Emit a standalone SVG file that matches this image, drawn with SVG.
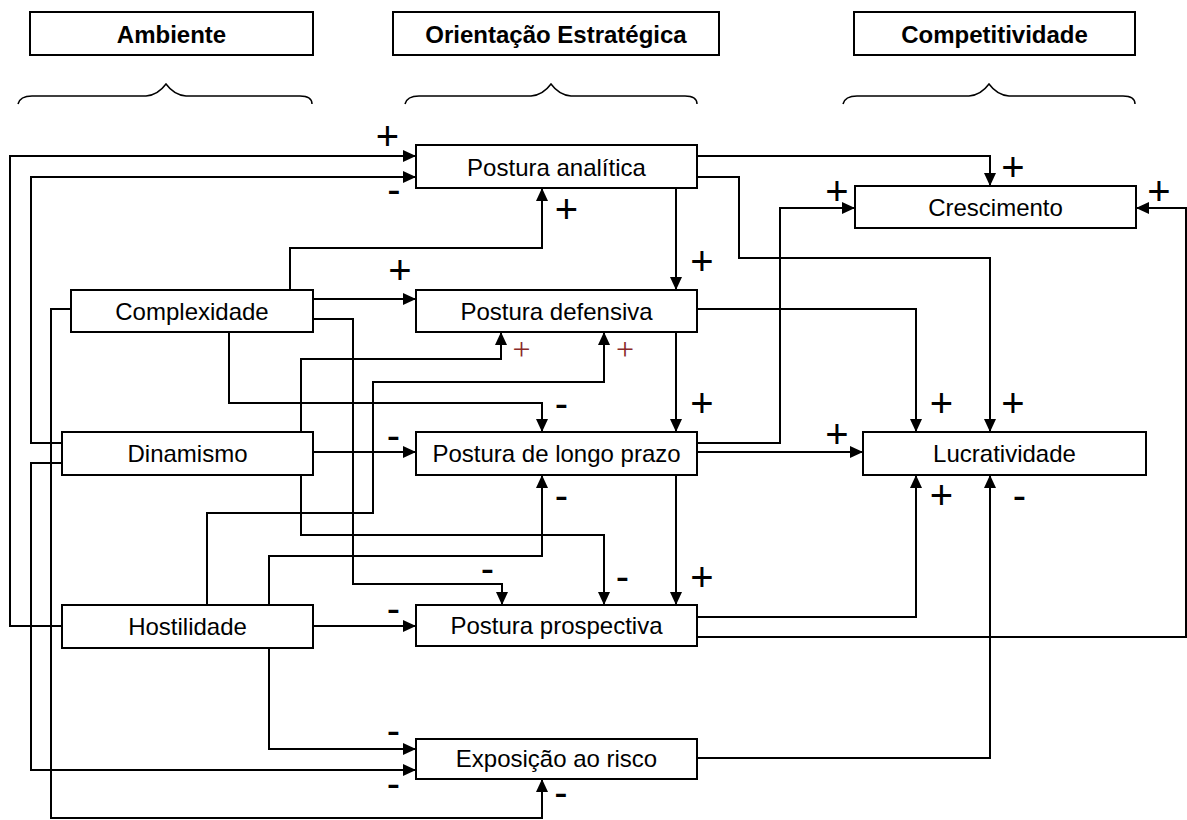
<svg xmlns="http://www.w3.org/2000/svg" width="1187" height="820" viewBox="0 0 1187 820">
  <style>
    .box { fill: #fff; stroke: #000; stroke-width: 2; }
    .hdr { font-family: "Liberation Sans", Arial, sans-serif; font-size: 24px; font-weight: bold; text-anchor: middle; fill: #000; }
    .lbl { font-family: "Liberation Sans", Arial, sans-serif; font-size: 24px; text-anchor: middle; fill: #000; }
    .brace { fill: none; stroke: #000; stroke-width: 1.5; }
    .wire { fill: none; stroke: #000; stroke-width: 2; marker-end: url(#arrow); }
    .plus { font-family: "Liberation Sans", Arial, sans-serif; font-size: 40px; text-anchor: middle; fill: #000; }
    .minus { font-family: "Liberation Sans", Arial, sans-serif; font-size: 40px; text-anchor: middle; fill: #000; }
    .small { font-family: "Liberation Serif", "Times New Roman", serif; font-size: 32px; text-anchor: middle; fill: #8a2a2a; }
  </style>
  <defs>
    <marker id="arrow" markerUnits="userSpaceOnUse" markerWidth="13" markerHeight="12" refX="13" refY="6" orient="auto">
      <path d="M0,0 L13,6 L0,12 z" fill="#000"/>
    </marker>
  </defs>

  <rect width="1187" height="820" fill="#fff"/>

  <!-- column headers -->
  <g id="hdr-ambiente">
    <rect class="box" x="30" y="12" width="283" height="43"/>
    <text class="hdr" x="171.5" y="43">Ambiente</text>
  </g>
  <g id="hdr-orientacao">
    <rect class="box" x="393" y="12" width="326" height="43"/>
    <text class="hdr" x="556" y="43">Orientação Estratégica</text>
  </g>
  <g id="hdr-competitividade">
    <rect class="box" x="854" y="12" width="281" height="43"/>
    <text class="hdr" x="994.5" y="43">Competitividade</text>
  </g>

  <!-- braces under headers -->
  <g id="braces">
    <path class="brace" d="M18,104 Q20,96 32,96 L146,96 Q158,95 166,84 Q174,95 186,96 L300,96 Q312,96 312,104"/>
    <path class="brace" d="M405,104 Q407,96 419,96 L531,96 Q543,95 551,84 Q559,95 571,96 L685,96 Q697,96 697,104"/>
    <path class="brace" d="M843,104 Q845,96 857,96 L969,96 Q981,95 989,84 Q997,95 1009,96 L1123,96 Q1135,96 1135,104"/>
  </g>

  <!-- environment nodes -->
  <g id="complexidade">
    <rect class="box" x="71" y="290" width="242" height="42"/>
    <text class="lbl" x="192" y="320">Complexidade</text>
  </g>
  <g id="dinamismo">
    <rect class="box" x="62" y="432" width="251" height="43"/>
    <text class="lbl" x="187.5" y="462">Dinamismo</text>
  </g>
  <g id="hostilidade">
    <rect class="box" x="62" y="605" width="251" height="43"/>
    <text class="lbl" x="187.5" y="635">Hostilidade</text>
  </g>

  <!-- strategic orientation nodes -->
  <g id="postura-analitica">
    <rect class="box" x="416" y="145" width="281" height="43"/>
    <text class="lbl" x="556.5" y="176">Postura analítica</text>
  </g>
  <g id="postura-defensiva">
    <rect class="box" x="416" y="290" width="281" height="42"/>
    <text class="lbl" x="556.5" y="320">Postura defensiva</text>
  </g>
  <g id="postura-longo-prazo">
    <rect class="box" x="416" y="432" width="281" height="43"/>
    <text class="lbl" x="556.5" y="462">Postura de longo prazo</text>
  </g>
  <g id="postura-prospectiva">
    <rect class="box" x="416" y="605" width="281" height="41"/>
    <text class="lbl" x="556.5" y="634">Postura prospectiva</text>
  </g>
  <g id="exposicao-risco">
    <rect class="box" x="416" y="739" width="281" height="40"/>
    <text class="lbl" x="556.5" y="767">Exposição ao risco</text>
  </g>

  <!-- competitiveness nodes -->
  <g id="crescimento">
    <rect class="box" x="855" y="186" width="281" height="42"/>
    <text class="lbl" x="995.5" y="216">Crescimento</text>
  </g>
  <g id="lucratividade">
    <rect class="box" x="863" y="432" width="283" height="43"/>
    <text class="lbl" x="1004.5" y="462">Lucratividade</text>
  </g>

  <!-- connectors -->
  <g id="connectors">
    <path class="wire" d="M62,626 L10,626 L10,156 L416,156"/>
    <path class="wire" d="M62,443 L31,443 L31,177 L416,177"/>
    <path class="wire" d="M290,290 L290,248 L542,248 L542,188"/>
    <path class="wire" d="M313,299 L416,299"/>
    <path class="wire" d="M313,319 L353,319 L353,584 L502,584 L502,605"/>
    <path class="wire" d="M229,332 L229,403 L542,403 L542,432"/>
    <path class="wire" d="M71,309 L51,309 L51,818 L542,818 L542,779"/>
    <path class="wire" d="M301,432 L301,359 L501,359 L501,332"/>
    <path class="wire" d="M207,605 L207,513 L373,513 L373,382 L604,382 L604,332"/>
    <path class="wire" d="M313,452 L416,452"/>
    <path class="wire" d="M301,475 L301,535 L604,535 L604,605"/>
    <path class="wire" d="M62,463 L31,463 L31,770 L416,770"/>
    <path class="wire" d="M269,605 L269,556 L542,556 L542,475"/>
    <path class="wire" d="M313,626 L416,626"/>
    <path class="wire" d="M269,648 L269,749 L416,749"/>
    <path class="wire" d="M697,156 L990,156 L990,186"/>
    <path class="wire" d="M697,177 L739,177 L739,258 L990,258 L990,432"/>
    <path class="wire" d="M676,188 L676,290"/>
    <path class="wire" d="M676,332 L676,432"/>
    <path class="wire" d="M676,475 L676,605"/>
    <path class="wire" d="M697,309 L916,309 L916,432"/>
    <path class="wire" d="M697,443 L780,443 L780,208 L855,208"/>
    <path class="wire" d="M697,452 L863,452"/>
    <path class="wire" d="M697,617 L916,617 L916,475"/>
    <path class="wire" d="M697,637 L1186,637 L1186,208 L1136,208"/>
    <path class="wire" d="M697,758 L990,758 L990,475"/>
  </g>

  <!-- sign labels on the links -->
  <g id="signs">
    <text class="plus" x="387.5" y="150">+</text>
    <text class="minus" x="394" y="203">-</text>
    <text class="plus" x="566.5" y="223">+</text>
    <text class="plus" x="400" y="284">+</text>
    <text class="plus" x="702" y="275">+</text>
    <text class="plus" x="1013" y="181">+</text>
    <text class="plus" x="837" y="205">+</text>
    <text class="plus" x="1159" y="205">+</text>
    <text class="small" x="521.5" y="360">+</text>
    <text class="small" x="625" y="360">+</text>
    <text class="minus" x="561.5" y="417">-</text>
    <text class="plus" x="702" y="417">+</text>
    <text class="minus" x="393.5" y="449">-</text>
    <text class="minus" x="561.5" y="509">-</text>
    <text class="plus" x="941.5" y="417">+</text>
    <text class="plus" x="1013" y="417">+</text>
    <text class="plus" x="837" y="448">+</text>
    <text class="plus" x="941.5" y="509">+</text>
    <text class="minus" x="1019.5" y="509">-</text>
    <text class="minus" x="487.5" y="582">-</text>
    <text class="minus" x="622.5" y="590">-</text>
    <text class="plus" x="702" y="591">+</text>
    <text class="minus" x="393.5" y="622">-</text>
    <text class="minus" x="393.5" y="744">-</text>
    <text class="minus" x="393.5" y="797">-</text>
    <text class="minus" x="561" y="806">-</text>
  </g>
</svg>
